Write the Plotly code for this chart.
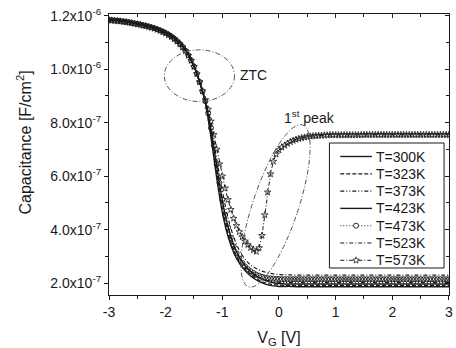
import math
import plotly.graph_objects as go

# ---------------- data (capacitance in units of 1e-7 F/cm^2) ----------------
V_fine = [round(-3 + 0.05 * i, 2) for i in range(121)]    # gate voltage grid, 0.05 V
V_coarse = [round(-3 + 0.1 * i, 1) for i in range(61)]    # gate voltage grid, 0.1 V

C300 = [11.86, 11.84, 11.82, 11.79, 11.75, 11.71, 11.67, 11.62, 11.56, 11.48,
        11.39, 11.27, 11.10, 10.88, 10.56, 10.12, 9.51, 8.75, 7.45, 5.95,
        4.65, 3.75, 3.15, 2.75, 2.47, 2.27, 2.12, 2.01, 1.94, 1.90,
        1.88, 1.88, 1.88, 1.87, 1.87, 1.87, 1.87, 1.87, 1.87, 1.87,
        1.87, 1.87, 1.87, 1.87, 1.87, 1.87, 1.87, 1.87, 1.87, 1.87,
        1.87, 1.87, 1.87, 1.87, 1.87, 1.87, 1.87, 1.87, 1.87, 1.87, 1.87]
C323 = [11.86, 11.84, 11.81, 11.78, 11.74, 11.70, 11.66, 11.61, 11.55, 11.47,
        11.38, 11.26, 11.09, 10.87, 10.55, 10.11, 9.51, 8.77, 7.55, 6.10,
        4.80, 3.88, 3.25, 2.83, 2.54, 2.33, 2.17, 2.06, 1.99, 1.95,
        1.93, 1.92, 1.92, 1.92, 1.92, 1.92, 1.92, 1.92, 1.92, 1.92,
        1.92, 1.92, 1.92, 1.92, 1.92, 1.92, 1.92, 1.92, 1.92, 1.92,
        1.92, 1.92, 1.92, 1.92, 1.92, 1.92, 1.92, 1.92, 1.92, 1.92, 1.92]
C373 = [11.85, 11.83, 11.80, 11.77, 11.73, 11.69, 11.65, 11.60, 11.54, 11.46,
        11.37, 11.25, 11.08, 10.86, 10.54, 10.10, 9.51, 8.78, 7.65, 6.25,
        4.98, 4.03, 3.38, 2.94, 2.64, 2.43, 2.27, 2.16, 2.09, 2.05,
        2.03, 2.02, 2.02, 2.02, 2.02, 2.02, 2.02, 2.02, 2.02, 2.02,
        2.02, 2.02, 2.02, 2.02, 2.02, 2.02, 2.02, 2.02, 2.02, 2.02,
        2.02, 2.02, 2.02, 2.02, 2.02, 2.02, 2.02, 2.02, 2.02, 2.02, 2.02]
C423 = [11.85, 11.83, 11.80, 11.77, 11.73, 11.69, 11.64, 11.59, 11.53, 11.45,
        11.36, 11.24, 11.07, 10.85, 10.53, 10.10, 9.51, 8.79, 7.72, 6.38,
        5.10, 4.12, 3.44, 2.98, 2.66, 2.44, 2.27, 2.15, 2.07, 2.02,
        1.99, 1.97, 1.97, 1.97, 1.97, 1.97, 1.97, 1.97, 1.97, 1.97,
        1.97, 1.97, 1.97, 1.97, 1.97, 1.97, 1.97, 1.97, 1.97, 1.97,
        1.97, 1.97, 1.97, 1.97, 1.97, 1.97, 1.97, 1.97, 1.97, 1.97, 1.97]
C473 = [11.84, 11.83, 11.82, 11.81, 11.80, 11.78, 11.77, 11.75, 11.73, 11.71,
        11.69, 11.67, 11.64, 11.62, 11.59, 11.56, 11.53, 11.49, 11.45, 11.40,
        11.35, 11.29, 11.22, 11.14, 11.05, 10.95, 10.83, 10.69, 10.52, 10.33,
        10.10, 9.83, 9.52, 9.17, 8.80, 8.35, 7.80, 7.15, 6.45, 5.75,
        5.12, 4.55, 4.08, 3.70, 3.38, 3.12, 2.92, 2.76, 2.63, 2.53,
        2.45, 2.38, 2.32, 2.28, 2.24, 2.21, 2.19, 2.18, 2.17, 2.16,
        2.16, 2.15, 2.15, 2.15, 2.15, 2.15, 2.15, 2.15, 2.15, 2.15,
        2.15, 2.15, 2.15, 2.15, 2.15, 2.15, 2.15, 2.15, 2.15, 2.15,
        2.15, 2.15, 2.15, 2.15, 2.15, 2.15, 2.15, 2.15, 2.15, 2.15,
        2.15, 2.15, 2.15, 2.15, 2.15, 2.15, 2.15, 2.15, 2.15, 2.15,
        2.15, 2.15, 2.15, 2.15, 2.15, 2.15, 2.15, 2.15, 2.15, 2.15,
        2.15, 2.15, 2.15, 2.15, 2.15, 2.15, 2.15, 2.15, 2.15, 2.15, 2.15]
C523 = [11.84, 11.82, 11.79, 11.76, 11.72, 11.67, 11.62, 11.57, 11.50, 11.42,
        11.33, 11.20, 11.03, 10.81, 10.50, 10.08, 9.51, 8.82, 7.90, 6.65,
        5.45, 4.45, 3.73, 3.23, 2.90, 2.68, 2.55, 2.45, 2.39, 2.35,
        2.33, 2.31, 2.31, 2.30, 2.30, 2.30, 2.30, 2.30, 2.30, 2.30,
        2.30, 2.30, 2.30, 2.30, 2.30, 2.30, 2.30, 2.30, 2.30, 2.30,
        2.30, 2.30, 2.30, 2.30, 2.30, 2.30, 2.30, 2.30, 2.30, 2.30, 2.30]
C573 = [11.83, 11.82, 11.81, 11.80, 11.79, 11.77, 11.76, 11.74, 11.72, 11.70,
        11.68, 11.66, 11.63, 11.61, 11.58, 11.55, 11.52, 11.48, 11.44, 11.39,
        11.34, 11.28, 11.21, 11.13, 11.04, 10.94, 10.82, 10.68, 10.51, 10.32,
        10.09, 9.82, 9.52, 9.18, 8.85, 8.50, 8.05, 7.55, 7.00, 6.45,
        6.00, 5.55, 5.12, 4.75, 4.42, 4.15, 3.92, 3.73, 3.57, 3.44,
        3.33, 3.24, 3.18, 3.32, 3.78, 4.55, 5.40, 6.08, 6.55, 6.82,
        6.98, 7.08, 7.15, 7.22, 7.28, 7.33, 7.37, 7.40, 7.43, 7.45,
        7.47, 7.49, 7.50, 7.51, 7.52, 7.52, 7.53, 7.53, 7.54, 7.54,
        7.54, 7.54, 7.54, 7.54, 7.54, 7.54, 7.54, 7.54, 7.54, 7.54,
        7.55, 7.55, 7.55, 7.55, 7.55, 7.55, 7.55, 7.55, 7.55, 7.55,
        7.55, 7.55, 7.55, 7.55, 7.55, 7.55, 7.55, 7.55, 7.55, 7.55,
        7.55, 7.55, 7.55, 7.55, 7.55, 7.55, 7.55, 7.55, 7.55, 7.55, 7.55]

UNIT = 1e-7
X_TICKS = [-3, -2, -1, 0, 1, 2, 3]
X_TICK_TEXT = ["-3", "-2", "-1", "0", "1", "2", "3"]
Y_TICKS = [2e-7, 4e-7, 6e-7, 8e-7, 1.0e-6, 1.2e-6]
Y_TICK_TEXT = ["2.0x10<sup>-7</sup>", "4.0x10<sup>-7</sup>", "6.0x10<sup>-7</sup>",
               "8.0x10<sup>-7</sup>", "1.0x10<sup>-6</sup>", "1.2x10<sup>-6</sup>"]
X_MINOR = [-2.5, -1.5, -0.5, 0.5, 1.5, 2.5]
Y_MINOR = [3e-7, 5e-7, 7e-7, 9e-7, 1.1e-6]
X_RANGE = [-3, 3.0005]
Y_RANGE = [1.56e-7, 1.206e-6]

for arr in (C300, C323, C373, C423, C523):
    assert len(arr) == len(V_coarse), len(arr)
for arr in (C473, C573):
    assert len(arr) == len(V_fine), len(arr)

# ---------------- figure ----------------
W, H = 456, 348
ML, MR, MT, MB = 109, 3, 14, 53
PW, PH = W - ML - MR, H - MT - MB
INK = "#1a1a1a"
GREY = "#555555"
FONT = "Liberation Sans, Arial, sans-serif"

def px_x(px):
    return (px - ML) / PW

def px_y(py):
    return (H - MB - py) / PH

def scaled(a):
    return [v * UNIT for v in a]

fig = go.Figure()

series = [
    ("T=300K", V_coarse, C300, dict(color=INK, width=1.4, dash="solid", shape="spline"), None),
    ("T=323K", V_coarse, C323, dict(color=INK, width=1.3, dash="4px,2px", shape="spline"), None),
    ("T=373K", V_coarse, C373, dict(color=INK, width=1.2, dash="4px,2px,1px,2px,1px,2px", shape="spline"), None),
    ("T=423K", V_coarse, C423, dict(color=INK, width=1.4, dash="solid", shape="spline"), None),
    ("T=473K", V_fine, C473, dict(color=INK, width=1.1, dash="1px,2px"),
     dict(symbol="circle-open", size=5, color=INK, line=dict(width=0.9, color=INK))),
    ("T=523K", V_coarse, C523, dict(color=INK, width=1.2, dash="4px,2px,1px,2px", shape="spline"), None),
    ("T=573K", V_fine, C573, dict(color=INK, width=1.0, dash="4px,2px,1px,2px"),
     dict(symbol="star-open", size=5, color=INK, line=dict(width=0.8, color=INK))),
]
for name, xs, ys, line, marker in series:
    fig.add_trace(go.Scatter(
        x=xs, y=scaled(ys), name=name, showlegend=False,
        mode="lines+markers" if marker else "lines",
        line=line, marker=marker,
    ))

# dummy trace so the mirrored inner-tick axes are drawn
fig.add_trace(go.Scatter(x=[None], y=[None], xaxis="x2", yaxis="y2",
                         showlegend=False, hoverinfo="skip"))

# ---------------- annotation ellipses ----------------
px_per_v = PW / (X_RANGE[1] - X_RANGE[0])
px_per_c = PH / (Y_RANGE[1] - Y_RANGE[0])
ELL = dict(color=GREY, width=1, dash="5px,2px,1px,2px")

fig.add_shape(type="circle", xref="x", yref="y",
              x0=-2.023, x1=-0.785, y0=8.79e-7, y1=10.72e-7, line=ELL)

cv, cc = -0.061, 4.89e-7
a_px, b_px, tilt = 85.5, 23.0, math.radians(18.7)
ux, uy = math.sin(tilt), -math.cos(tilt)
vx, vy = math.cos(tilt), math.sin(tilt)
pts = []
for k in range(0, 73):
    t = 2 * math.pi * k / 72
    dx = a_px * math.sin(t) * ux + b_px * math.cos(t) * vx
    dy = a_px * math.sin(t) * uy + b_px * math.cos(t) * vy
    pts.append((cv + dx / px_per_v, cc - dy / px_per_c))
path = "M " + " L ".join(f"{x:.5f},{y:.5e}" for x, y in pts) + " Z"
fig.add_shape(type="path", xref="x", yref="y", path=path, line=ELL)

fig.add_annotation(x=-0.73, y=9.78e-7, text="ZTC", showarrow=False,
                   xanchor="left", yanchor="middle",
                   font=dict(size=14, color=INK, family=FONT))
fig.add_annotation(x=0.53, y=8.2e-7, text="1<sup>st</sup> peak", showarrow=False,
                   xanchor="center", yanchor="middle",
                   font=dict(size=14, color=INK, family=FONT))

# ---------------- legend (drawn box, compact rows like the reference) ----------------
fig.add_shape(type="rect", xref="paper", yref="paper", layer="above",
              x0=px_x(332), x1=px_x(448), y0=px_y(268), y1=px_y(143),
              line=dict(color=INK, width=1), fillcolor="white")
row0, row_gap = 156.5, 17.3
for i, (name, _, _, line, marker) in enumerate(series):
    py = row0 + i * row_gap
    fig.add_shape(type="line", xref="paper", yref="paper", layer="above",
                  x0=px_x(343), x1=px_x(375), y0=px_y(py), y1=px_y(py),
                  line=dict(color=INK, width=line["width"], dash=line["dash"]))
    if marker is not None:
        if marker["symbol"].startswith("circle"):
            fig.add_shape(type="circle", xref="paper", yref="paper", layer="above",
                          xsizemode="pixel", ysizemode="pixel",
                          xanchor=px_x(359), yanchor=px_y(py),
                          x0=-2.5, x1=2.5, y0=-2.5, y1=2.5,
                          line=dict(color=INK, width=0.9), fillcolor="white")
        else:
            sp = []
            for k in range(10):
                r = 3.4 if k % 2 == 0 else 1.5
                ang = math.pi / 2 + k * math.pi / 5
                sp.append((r * math.cos(ang), r * math.sin(ang)))
            spath = "M " + " L ".join(f"{x:.2f},{y:.2f}" for x, y in sp) + " Z"
            fig.add_shape(type="path", xref="paper", yref="paper", layer="above",
                          xsizemode="pixel", ysizemode="pixel",
                          xanchor=px_x(359), yanchor=px_y(py), path=spath,
                          line=dict(color=INK, width=0.8), fillcolor="white")
    fig.add_annotation(x=px_x(377), y=px_y(py), xref="paper", yref="paper",
                       text=name, showarrow=False, xanchor="left", yanchor="middle",
                       font=dict(size=14, color=INK, family=FONT))

# y-axis title placed like the reference (slightly above centre)
fig.add_annotation(x=px_x(23.5), y=px_y(142), xref="paper", yref="paper",
                   text="Capacitance [F/cm<sup>2</sup>]", textangle=-90, showarrow=False,
                   xanchor="center", yanchor="middle",
                   font=dict(size=16, color=INK, family=FONT))

axis_common = dict(showgrid=False, zeroline=False, color=INK,
                   linecolor=INK, linewidth=1.2, tickcolor=INK, tickwidth=1.2,
                   tickfont=dict(size=14, color=INK, family=FONT),
                   ticklabeloverflow="allow")

fig.update_layout(
    width=W, height=H,
    margin=dict(l=ML, r=MR, t=MT, b=MB, pad=0),
    paper_bgcolor="white", plot_bgcolor="white",
    font=dict(family=FONT, color=INK),
    showlegend=False,
    xaxis=dict(range=X_RANGE, tickmode="array", tickvals=X_TICKS, ticktext=X_TICK_TEXT,
               ticks="outside", ticklen=4, showline=True, mirror=True,
               minor=dict(ticks="outside", ticklen=3, tickmode="array", tickvals=X_MINOR,
                          tickcolor=INK),
               title=dict(text="V<sub>G</sub> [V]", font=dict(size=16, color=INK, family=FONT),
                          standoff=14),
               **axis_common),
    yaxis=dict(range=Y_RANGE, tickmode="array", tickvals=Y_TICKS, ticktext=Y_TICK_TEXT,
               ticks="outside", ticklen=4, showline=True, mirror=True,
               minor=dict(ticks="outside", ticklen=3, tickmode="array",
                          tickvals=Y_MINOR, tickcolor=INK),
               **axis_common),
    xaxis2=dict(range=X_RANGE, overlaying="x", side="top", anchor="y2",
                tickmode="array", tickvals=X_TICKS, ticks="inside", ticklen=4,
                showticklabels=False, showline=False, showgrid=False, zeroline=False,
                tickcolor=INK, tickwidth=1.2,
                minor=dict(ticks="inside", ticklen=3, tickmode="array", tickvals=X_MINOR,
                           tickcolor=INK)),
    yaxis2=dict(range=Y_RANGE, overlaying="y", side="right", anchor="x2",
                tickmode="array", tickvals=Y_TICKS, ticks="inside", ticklen=4,
                showticklabels=False, showline=False, showgrid=False, zeroline=False,
                tickcolor=INK, tickwidth=1.2,
                minor=dict(ticks="inside", ticklen=3, tickmode="array",
                           tickvals=Y_MINOR, tickcolor=INK)),
)

fig.write_html("out.html")
